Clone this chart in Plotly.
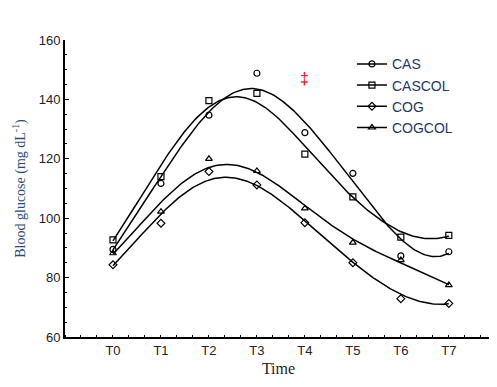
import numpy as np
import plotly.graph_objects as go

categories = ["T0", "T1", "T2", "T3", "T4", "T5", "T6", "T7"]
cas = [89.5, 111.7, 134.7, 148.8, 128.8, 115.1, 87.3, 88.7]
cascol = [92.7, 114.0, 139.6, 142.0, 121.6, 107.2, 93.6, 94.2]
cog = [84.3, 98.3, 115.7, 111.2, 98.5, 85.0, 72.9, 71.3]
cogcol = [88.2, 102.2, 120.0, 115.9, 103.3, 91.8, 85.9, 77.5]

series = [
    ("CAS", cas, "circle-open"),
    ("CASCOL", cascol, "square-open"),
    ("COG", cog, "diamond-open"),
    ("COGCOL", cogcol, "triangle-up-open"),
]

xi = np.arange(len(categories))
xf = np.linspace(0, len(categories) - 1, 200)


def dwls(x, y, grid, bw=1.1):
    # distance-weighted local quadratic least squares smoothing
    x = np.asarray(x, float)
    y = np.asarray(y, float)
    out = []
    for g in grid:
        w = np.exp(-0.5 * ((x - g) / bw) ** 2)
        X = np.vstack([np.ones_like(x), x - g, (x - g) ** 2]).T
        W = np.diag(w)
        beta = np.linalg.solve(X.T @ W @ X, X.T @ W @ y)
        out.append(beta[0])
    return np.array(out)


fig = go.Figure()
for name, vals, sym in series:
    fig.add_trace(go.Scatter(x=xf, y=dwls(xi, vals, xf), mode="lines",
                             line=dict(color="black", width=1.5),
                             showlegend=False, hoverinfo="skip"))
    fig.add_trace(go.Scatter(x=xi, y=vals, mode="markers", name=name,
                             showlegend=False,
                             marker=dict(symbol=sym, size=6, color="black",
                                         line=dict(width=1.2, color="black"))))
    # legend entry (line + marker symbol)
    fig.add_trace(go.Scatter(x=[None], y=[None], mode="lines+markers", name=name,
                             line=dict(color="black", width=1.5),
                             marker=dict(symbol=sym, size=6, color="black",
                                         line=dict(width=1.2, color="black"))))

fig.add_annotation(x=4, y=147, text="‡", showarrow=False,
                   font=dict(color="red", size=16, family="Liberation Sans"))

fig.update_layout(
    width=489, height=379,
    margin=dict(l=57, r=5, t=32, b=50),
    paper_bgcolor="white", plot_bgcolor="white",
    font=dict(family="Liberation Sans", size=13, color="#222222"),
    legend=dict(x=0.672, y=0.972, xanchor="left", yanchor="top",
                font=dict(color="#1f3864", size=14), bgcolor="rgba(0,0,0,0)",
                itemwidth=30, tracegroupgap=0, itemclick=False),
    xaxis=dict(range=[-1, 7.9], tickmode="array", tickvals=list(xi),
               ticktext=categories, showline=True, linecolor="black", linewidth=2,
               ticks="", showgrid=False, zeroline=False, automargin=False,
               minor=dict(ticks="inside", dtick=1/3, ticklen=2, tickcolor="black", showgrid=False),
               title=dict(text="Time", font=dict(family="Liberation Serif", size=16, color="#222222"), standoff=6)),
    yaxis=dict(range=[60, 160], dtick=20, showline=True, linecolor="black", linewidth=2,
               ticks="inside", ticklen=4, tickcolor="black", showgrid=False, zeroline=False,
               automargin=False,
               minor=dict(ticks="inside", dtick=5, ticklen=2, tickcolor="black", showgrid=False),
               title=dict(text="Blood glucose (mg dL<sup>-1</sup>)",
                          font=dict(family="Liberation Serif", size=14, color="#2b4a7a"), standoff=10)),
)

fig.write_html("out.html")
